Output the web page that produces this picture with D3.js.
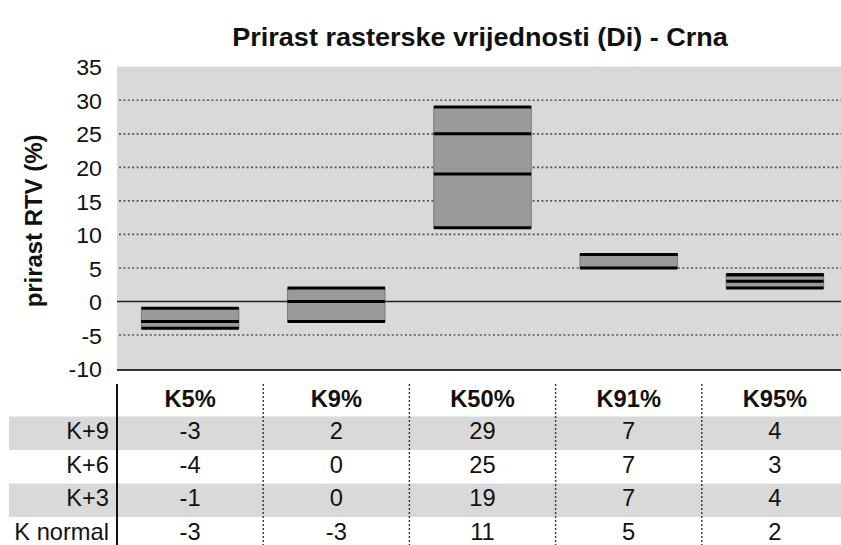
<!DOCTYPE html>
<html>
<head>
<meta charset="utf-8">
<script src="https://cdn.jsdelivr.net/npm/d3@7"></script>
<style>
  html, body { margin: 0; padding: 0; background: #fff; }
  svg { display: block; font-family: "Liberation Sans", Arial, sans-serif; }
</style>
</head>
<body>
<svg id="chart" width="841" height="545"></svg>
<script>
// Tonal value increase per patch, one array per press setting
const categories = ["K5%", "K9%", "K50%", "K91%", "K95%"];
const seriesNames = ["K+9", "K+6", "K+3", "K normal"];
const kPlus9   = [-3, 2, 29, 7, 4];
const kPlus6   = [-4, 0, 25, 7, 3];
const kPlus3   = [-1, 0, 19, 7, 4];
const kNormal  = [-3, -3, 11, 5, 2];
const yTicks   = [-10, -5, 0, 5, 10, 15, 20, 25, 30, 35];
const titleText = "Prirast rasterske vrijednosti (Di) - Crna";
const yLabel = "prirast RTV (%)";

const seriesValues = [kPlus9, kPlus6, kPlus3, kNormal];
const SX = 1.03; // slight horizontal text stretch

const svg = d3.select("#chart");

const plot = { left: 117, right: 848, top: 66, bottom: 370 };

const x = d3.scaleBand().domain(categories).range([plot.left, plot.right]).paddingInner(0).paddingOuter(0);
const y = d3.scaleLinear().domain([-10, 35]).range([368.5, 66.8]);

const barW = x.bandwidth() * 2 / 3;

function addText(g, tx, ty, str, opts = {}) {
  return g.append("text")
    .attr("transform", `translate(${tx},${ty})${opts.rotate ? ` rotate(${opts.rotate})` : ""} scale(${opts.sx || SX},1)`)
    .attr("text-anchor", opts.anchor || "middle")
    .attr("font-size", opts.size || 23)
    .attr("font-weight", opts.bold ? "bold" : "normal")
    .attr("fill", opts.fill || "#111")
    .text(str);
}

// Title
addText(svg, 480, 46, titleText, { size: 26.5, bold: true, sx: 1.02 });

// Plot background
svg.append("rect")
  .attr("x", plot.left).attr("y", plot.top)
  .attr("width", plot.right - plot.left).attr("height", plot.bottom - plot.top)
  .attr("fill", "#d9d9d9");
svg.append("line")
  .attr("x1", plot.left).attr("x2", plot.right)
  .attr("y1", plot.top + 0.5).attr("y2", plot.top + 0.5)
  .attr("stroke", "#ececec").attr("stroke-width", 1);

// Dotted gridlines
svg.append("g").selectAll("line")
  .data(yTicks.filter(v => v !== 0 && v !== -10 && v !== 35))
  .join("line")
  .attr("x1", plot.left + 2).attr("x2", plot.right)
  .attr("y1", d => y(d)).attr("y2", d => y(d))
  .attr("stroke", "#555").attr("stroke-width", 1.6)
  .attr("stroke-dasharray", "2,2.4");

// Zero line
svg.append("line")
  .attr("x1", plot.left).attr("x2", plot.right)
  .attr("y1", y(0)).attr("y2", y(0))
  .attr("stroke", "#222").attr("stroke-width", 1.5);

// Bottom frame line
svg.append("line")
  .attr("x1", plot.left).attr("x2", plot.right)
  .attr("y1", plot.bottom).attr("y2", plot.bottom)
  .attr("stroke", "#333").attr("stroke-width", 2);

// Floating range boxes with a line per series value
const cols = categories.map((c, i) => {
  const vals = seriesValues.map(s => s[i]);
  return { cat: c, vals, lo: d3.min(vals), hi: d3.max(vals) };
});

const bars = svg.append("g").selectAll("g").data(cols).join("g")
  .attr("transform", d => `translate(${x(d.cat) + (x.bandwidth() - barW) / 2},0)`);

bars.append("rect")
  .attr("x", 0).attr("width", barW)
  .attr("y", d => y(d.hi)).attr("height", d => y(d.lo) - y(d.hi))
  .attr("fill", "#9b9999")
  .attr("stroke", "#7a7a7a").attr("stroke-width", 1);

bars.selectAll("line").data(d => d.vals).join("line")
  .attr("x1", 0).attr("x2", barW)
  .attr("y1", v => y(v)).attr("y2", v => y(v))
  .attr("stroke", "#000").attr("stroke-width", 3);

// Y axis tick labels
const yAxis = svg.append("g")
  .attr("transform", "translate(102,0)")
  .call(d3.axisLeft(y).tickValues(yTicks).tickFormat(d => String(d)).tickSize(0).tickPadding(0));
yAxis.select(".domain").remove();
yAxis.selectAll("text")
  .attr("x", null).attr("dy", "0.36em")
  .attr("transform", `scale(${SX},1)`)
  .attr("font-size", 22.5)
  .attr("font-family", "Liberation Sans, Arial, sans-serif")
  .attr("fill", "#111");

// Y axis title
addText(svg, 42, 221, yLabel, { size: 23, bold: true, rotate: -90, sx: 1.04 });

// Data table
const rowKeys = ["header", ...seriesNames];
const row = d3.scaleBand().domain(rowKeys).range([383, 550.5]);
const textDrop = 6; // baseline offset below a row's centre

const table = svg.append("g");

table.selectAll("rect.band")
  .data(seriesNames.filter((_, i) => i % 2 === 0))
  .join("rect").attr("class", "band")
  .attr("x", 9).attr("width", 841 - 9)
  .attr("y", d => row(d)).attr("height", row.bandwidth())
  .attr("fill", "#d9d9d9");

// Column separators
table.selectAll("line.sep")
  .data(categories.slice(1))
  .join("line").attr("class", "sep")
  .attr("x1", d => x(d)).attr("x2", d => x(d))
  .attr("y1", 384).attr("y2", 545)
  .attr("stroke", "#333").attr("stroke-width", 1.4)
  .attr("stroke-dasharray", "2,2");

table.append("line")
  .attr("x1", plot.left).attr("x2", plot.left)
  .attr("y1", 384).attr("y2", 545)
  .attr("stroke", "#111").attr("stroke-width", 2);

// Header row
categories.forEach(c => {
  addText(table, x(c) + x.bandwidth() / 2, row("header") + row.bandwidth() / 2 + textDrop + 1.5, c, { size: 23, bold: true });
});

// Value rows
seriesNames.forEach((name, si) => {
  const cy = row(name) + row.bandwidth() / 2 + textDrop;
  addText(table, 109, cy, name, { anchor: "end", size: 23 });
  categories.forEach((c, ci) => {
    addText(table, x(c) + x.bandwidth() / 2, cy, String(seriesValues[si][ci]), { size: 23 });
  });
});
</script>
</body>
</html>
